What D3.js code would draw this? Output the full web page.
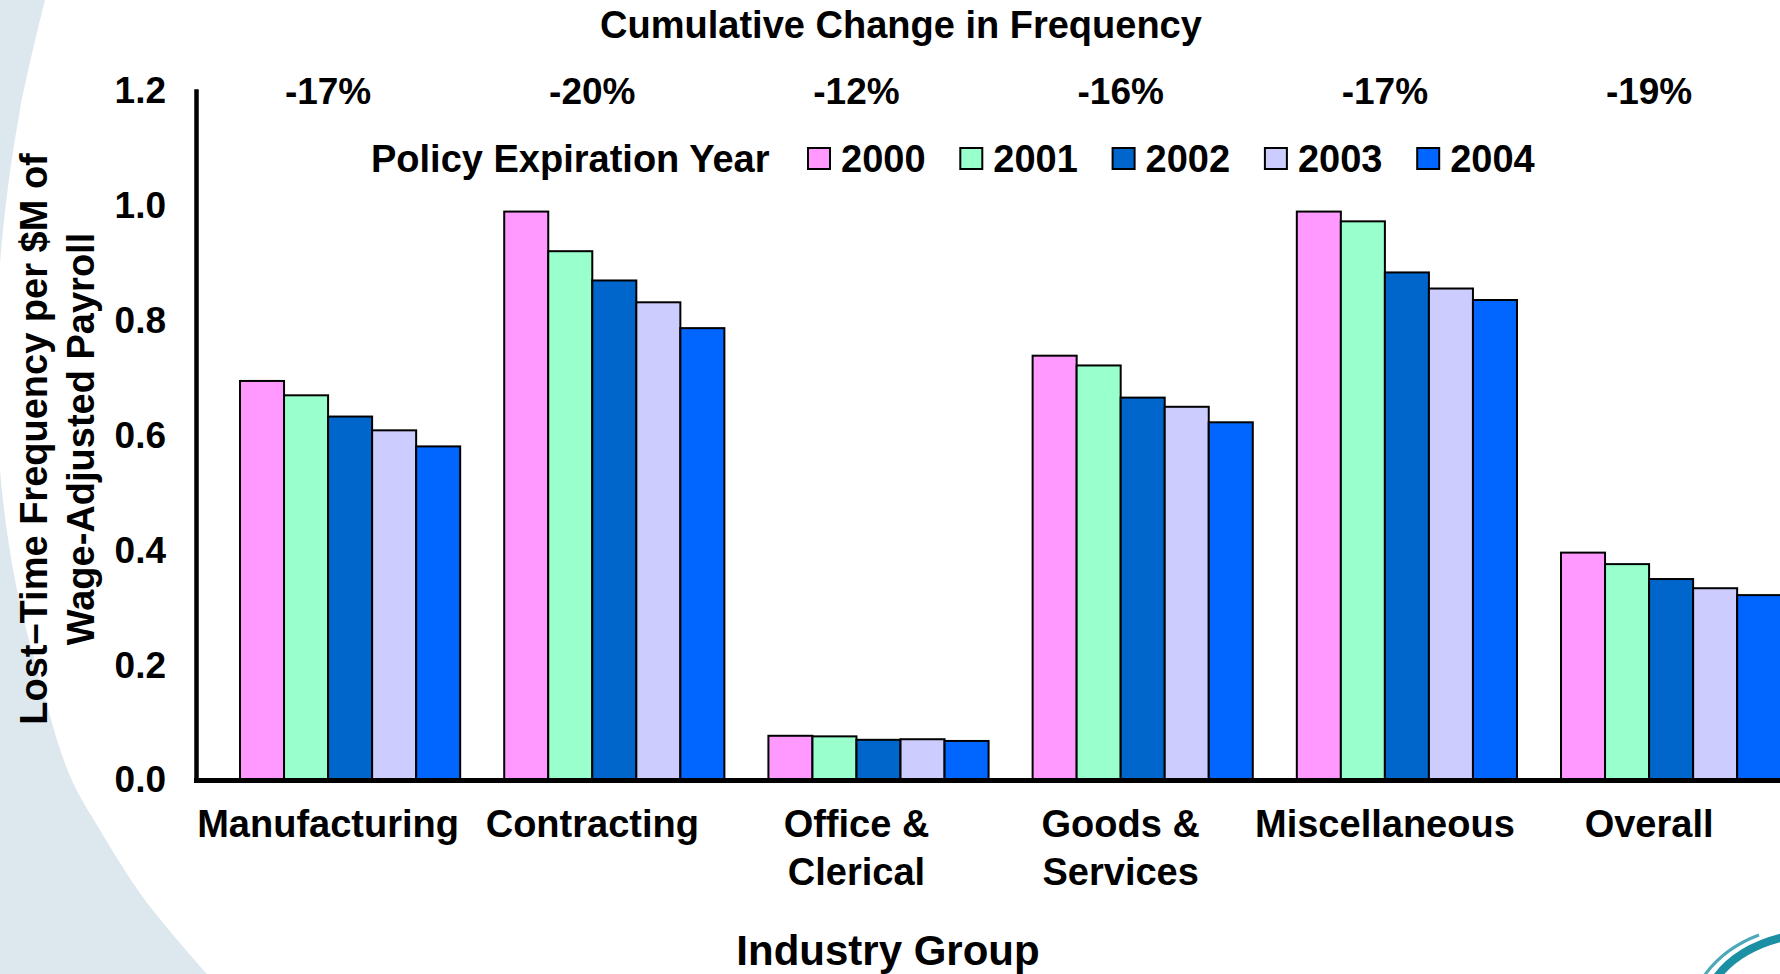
<!DOCTYPE html>
<html>
<head>
<meta charset="utf-8">
<script src="https://cdn.jsdelivr.net/npm/d3@7"></script>
<style>
  html, body { margin: 0; padding: 0; background: #ffffff; }
  svg { display: block; }
  text { font-family: "Liberation Sans", Arial, sans-serif; font-weight: bold; fill: #000; }
</style>
</head>
<body>
<svg id="chart" width="1780" height="974"></svg>
<script>
// Industry groups along the x axis
const categories = ["Manufacturing", "Contracting", "Office & Clerical", "Goods & Services", "Miscellaneous", "Overall"];
const categoryLines = [["Manufacturing"], ["Contracting"], ["Office &", "Clerical"], ["Goods &", "Services"], ["Miscellaneous"], ["Overall"]];

// Policy expiration years (series)
const years = ["2000", "2001", "2002", "2003", "2004"];
const yearColors = ["#FF99FF", "#99FFCC", "#0066CC", "#CCCCFF", "#0066FF"];

// Lost-time frequency per $M of wage-adjusted payroll, one array per year
const values2000 = [0.695, 0.990, 0.077, 0.739, 0.990, 0.396];
const values2001 = [0.670, 0.921, 0.076, 0.722, 0.973, 0.376];
const values2002 = [0.633, 0.870, 0.070, 0.666, 0.884, 0.350];
const values2003 = [0.609, 0.832, 0.071, 0.650, 0.856, 0.334];
const values2004 = [0.581, 0.787, 0.068, 0.623, 0.836, 0.322];
const seriesValues = [values2000, values2001, values2002, values2003, values2004];

// Cumulative change 2000 -> 2004 per group
const changeLabels = ["-17%", "-20%", "-12%", "-16%", "-17%", "-19%"];

// Y axis ticks
const yTicks = [0.0, 0.2, 0.4, 0.6, 0.8, 1.0, 1.2];

const W = 1780, H = 974;
const svg = d3.select("#chart");

// ---- backdrop ----
svg.append("rect").attr("width", W).attr("height", H).attr("fill", "#ffffff");

const swoosh = [[45, 0], [20, 110], [3, 230], [-4, 350], [0, 470], [15, 580], [40, 680], [70, 776], [100, 830], [145, 900], [207, 974]];
const swooshPath = d3.line().curve(d3.curveCatmullRom)(swoosh);
svg.append("path")
  .attr("d", swooshPath + " L -20 974 L -20 0 Z")
  .attr("fill", "#dde8ee");

// corner emblem arcs
svg.append("path").attr("d", "M 1704 976 Q 1724 948 1759 935")
  .attr("fill", "none").attr("stroke", "#4aa8b8").attr("stroke-width", 3);
svg.append("path").attr("d", "M 1716 978 Q 1738 948 1784 937")
  .attr("fill", "none").attr("stroke", "#1b8fa3").attr("stroke-width", 8);

// ---- scales ----
const axisX = 196;
const baseY = 780;
const step = 264.2;

const y = d3.scaleLinear().domain([0, 1.2]).range([baseY, 91]);

// category bands holding the bar clusters
const xBars = d3.scaleBand().domain(categories)
  .range([218, 218 + 6 * step])
  .paddingInner(1 / 6).paddingOuter(1 / 12);
const xYear = d3.scaleBand().domain(years).range([0, xBars.bandwidth()]);

// category bands for the axis labels
const xLabels = d3.scaleBand().domain(categories).range([axisX, axisX + 6 * step]);
const labelX = c => xLabels(c) + xLabels.bandwidth() / 2;

// ---- bars ----
const barData = [];
categories.forEach((c, ci) => {
  years.forEach((yr, si) => {
    barData.push({ cat: c, year: yr, value: seriesValues[si][ci], color: yearColors[si] });
  });
});

svg.append("g").selectAll("rect").data(barData).join("rect")
  .attr("x", d => xBars(d.cat) + xYear(d.year))
  .attr("y", d => y(d.value))
  .attr("width", xYear.bandwidth())
  .attr("height", d => baseY - y(d.value))
  .attr("fill", d => d.color)
  .attr("stroke", "#000")
  .attr("stroke-width", 2);

// ---- axes ----
const yAxis = d3.axisLeft(y).tickValues(yTicks).tickFormat(d3.format(".1f"))
  .tickSize(0).tickSizeOuter(0).tickPadding(30);
const gy = svg.append("g").attr("transform", `translate(${axisX},0)`).call(yAxis);
gy.select(".domain").attr("stroke", "#000").attr("stroke-width", 4.5).attr("stroke-linecap", "square");
gy.selectAll(".tick text")
  .attr("font-size", 37).attr("font-family", "Liberation Sans, Arial, sans-serif")
  .attr("font-weight", "bold").attr("fill", "#000");

const xAxis = d3.axisBottom(xLabels).tickSize(0).tickSizeOuter(0).tickFormat(() => "");
const gx = svg.append("g").attr("transform", `translate(0,${baseY})`).call(xAxis);
gx.select(".domain").attr("stroke", "#000").attr("stroke-width", 5).attr("stroke-linecap", "square");

// multi-line category labels
gx.selectAll(".tick").each(function (c) {
  const lines = categoryLines[categories.indexOf(c)];
  const t = d3.select(this).append("text")
    .attr("text-anchor", "middle")
    .attr("font-size", 38)
    .attr("fill", "#000");
  lines.forEach((ln, i) => {
    t.append("tspan").attr("x", 0).attr("y", 57 + i * 48).text(ln);
  });
});

// ---- titles and annotations ----
svg.append("text")
  .attr("x", 901).attr("y", 38)
  .attr("text-anchor", "middle").attr("font-size", 38)
  .text("Cumulative Change in Frequency");

svg.append("g").selectAll("text").data(categories).join("text")
  .attr("x", d => labelX(d))
  .attr("y", 104)
  .attr("text-anchor", "middle").attr("font-size", 37)
  .text((d, i) => changeLabels[i]);

svg.append("text")
  .attr("x", 888).attr("y", 965)
  .attr("text-anchor", "middle").attr("font-size", 42)
  .text("Industry Group");

const yTitle = svg.append("g").attr("transform", "translate(57,439) rotate(-90)");
yTitle.append("text").attr("x", 0).attr("y", -10).attr("text-anchor", "middle").attr("font-size", 38)
  .text("Lost\u2013Time Frequency per $M of");
yTitle.append("text").attr("x", 0).attr("y", 37).attr("text-anchor", "middle").attr("font-size", 38)
  .text("Wage-Adjusted Payroll");

// ---- legend ----
const legend = svg.append("g");
legend.append("text").attr("x", 371).attr("y", 172).attr("font-size", 38)
  .text("Policy Expiration Year");
const legendX = d3.scalePoint().domain(years).range([808, 808 + 4 * 152.3]);
const items = legend.selectAll("g.item").data(years).join("g").attr("class", "item")
  .attr("transform", d => `translate(${legendX(d)},0)`);
items.append("rect")
  .attr("x", 0).attr("y", 148).attr("width", 22).attr("height", 21)
  .attr("fill", (d, i) => yearColors[i])
  .attr("stroke", "#000").attr("stroke-width", 2);
items.append("text").attr("x", 33).attr("y", 172).attr("font-size", 38).text(d => d);
</script>
</body>
</html>
